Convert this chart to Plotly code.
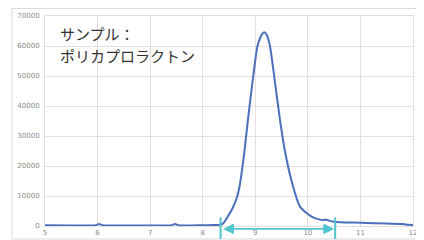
import plotly.graph_objects as go

# retention time (min) and detector response
time_min = [5.0, 5.5, 5.95, 6.03, 6.1, 6.5, 7.0, 7.4, 7.47, 7.55, 8.0, 8.2, 8.3, 8.38, 8.43,
            8.5, 8.57, 8.65, 8.70, 8.79, 8.86, 8.96, 9.04, 9.10, 9.14, 9.17, 9.20, 9.23, 9.28,
            9.36, 9.47, 9.57, 9.72, 9.85, 10.0, 10.1, 10.2, 10.3, 10.35, 10.4, 10.5, 10.7,
            11.0, 11.5, 11.8, 11.9, 12.0]
signal = [250, 200, 200, 700, 250, 200, 200, 200, 700, 200, 250, 300, 350, 700, 1800,
          3800, 6000, 9500, 13100, 24400, 35400, 49900, 59900, 63000, 64200, 64600, 64200,
          63200, 59900, 49900, 35400, 24400, 13100, 6450, 4000, 2900, 2300, 2000, 2100, 1800,
          1400, 1200, 1100, 800, 650, 450, 350]

x_ticks = [5, 6, 7, 8, 9, 10, 11, 12]
y_ticks = [0, 10000, 20000, 30000, 40000, 50000, 60000, 70000]

# integration range marked by the double arrow
range_start = 8.34
range_end = 10.52

label_lines = ["サンプル：", "ポリカプロラクトン"]

fig = go.Figure()
fig.add_trace(go.Scatter(
    x=time_min, y=signal, mode="lines",
    line=dict(color="#4a6fbb", width=2, shape="spline", smoothing=0.6),
    hoverinfo="skip", showlegend=False,
))

grid = "#e6dede"
tickfont = dict(family="DejaVu Sans", size=7, color="#8a8a8a")
fig.update_xaxes(range=[5, 12], tickvals=x_ticks, ticktext=[str(v) for v in x_ticks],
                 showgrid=True, gridcolor=grid, gridwidth=1, zeroline=False, automargin=False,
                 showline=True, linecolor=grid, mirror=True, ticks="", tickfont=tickfont)
fig.update_yaxes(range=[0, 70000], tickvals=y_ticks, ticktext=[str(v) for v in y_ticks],
                 showgrid=True, gridcolor=grid, gridwidth=1, zeroline=False, automargin=False,
                 showline=True, linecolor=grid, mirror=True, ticks="", tickfont=tickfont,
                 ticklabelstandoff=3)

teal = "#4fc4cc"
arrow_y = -0.014
annotations = [
    # double-headed arrow
    dict(xref="x", yref="paper", x=range_end, y=arrow_y, axref="x", ayref="pixel",
         ax=range_start, ay=0, text="", showarrow=True, arrowhead=2, arrowside="end+start",
         arrowsize=1.2, arrowwidth=1.8, arrowcolor=teal, standoff=1, startstandoff=1),
    # end bars
    dict(xref="x", yref="paper", x=range_start, y=-0.067, ax=0, ay=-24, text="",
         showarrow=True, arrowhead=0, arrowwidth=2, arrowcolor=teal),
    dict(xref="x", yref="paper", x=range_end, y=-0.067, ax=0, ay=-24, text="",
         showarrow=True, arrowhead=0, arrowwidth=2, arrowcolor=teal),
]
for txt, yp in zip(label_lines, [0.919, 0.814]):
    annotations.append(dict(xref="paper", yref="paper", x=0.035, y=yp, xanchor="left",
                            yanchor="middle", text=txt, showarrow=False,
                            font=dict(family="Noto Sans CJK JP", size=15, color="#333333")))

# the page body adds an 8px offset, so the figure is 8px smaller than the window
fig.update_layout(
    width=416, height=232,
    margin=dict(l=37, r=11, t=8, b=14, autoexpand=False),
    paper_bgcolor="white", plot_bgcolor="white",
    annotations=annotations,
    shapes=[dict(type="rect", xref="paper", yref="paper", x0=-0.0897, x1=1.016,
                 y0=-0.062, y1=1.036, line=dict(color="#d8d8d8", width=1), layer="below")],
)

fig.write_html("out.html")
